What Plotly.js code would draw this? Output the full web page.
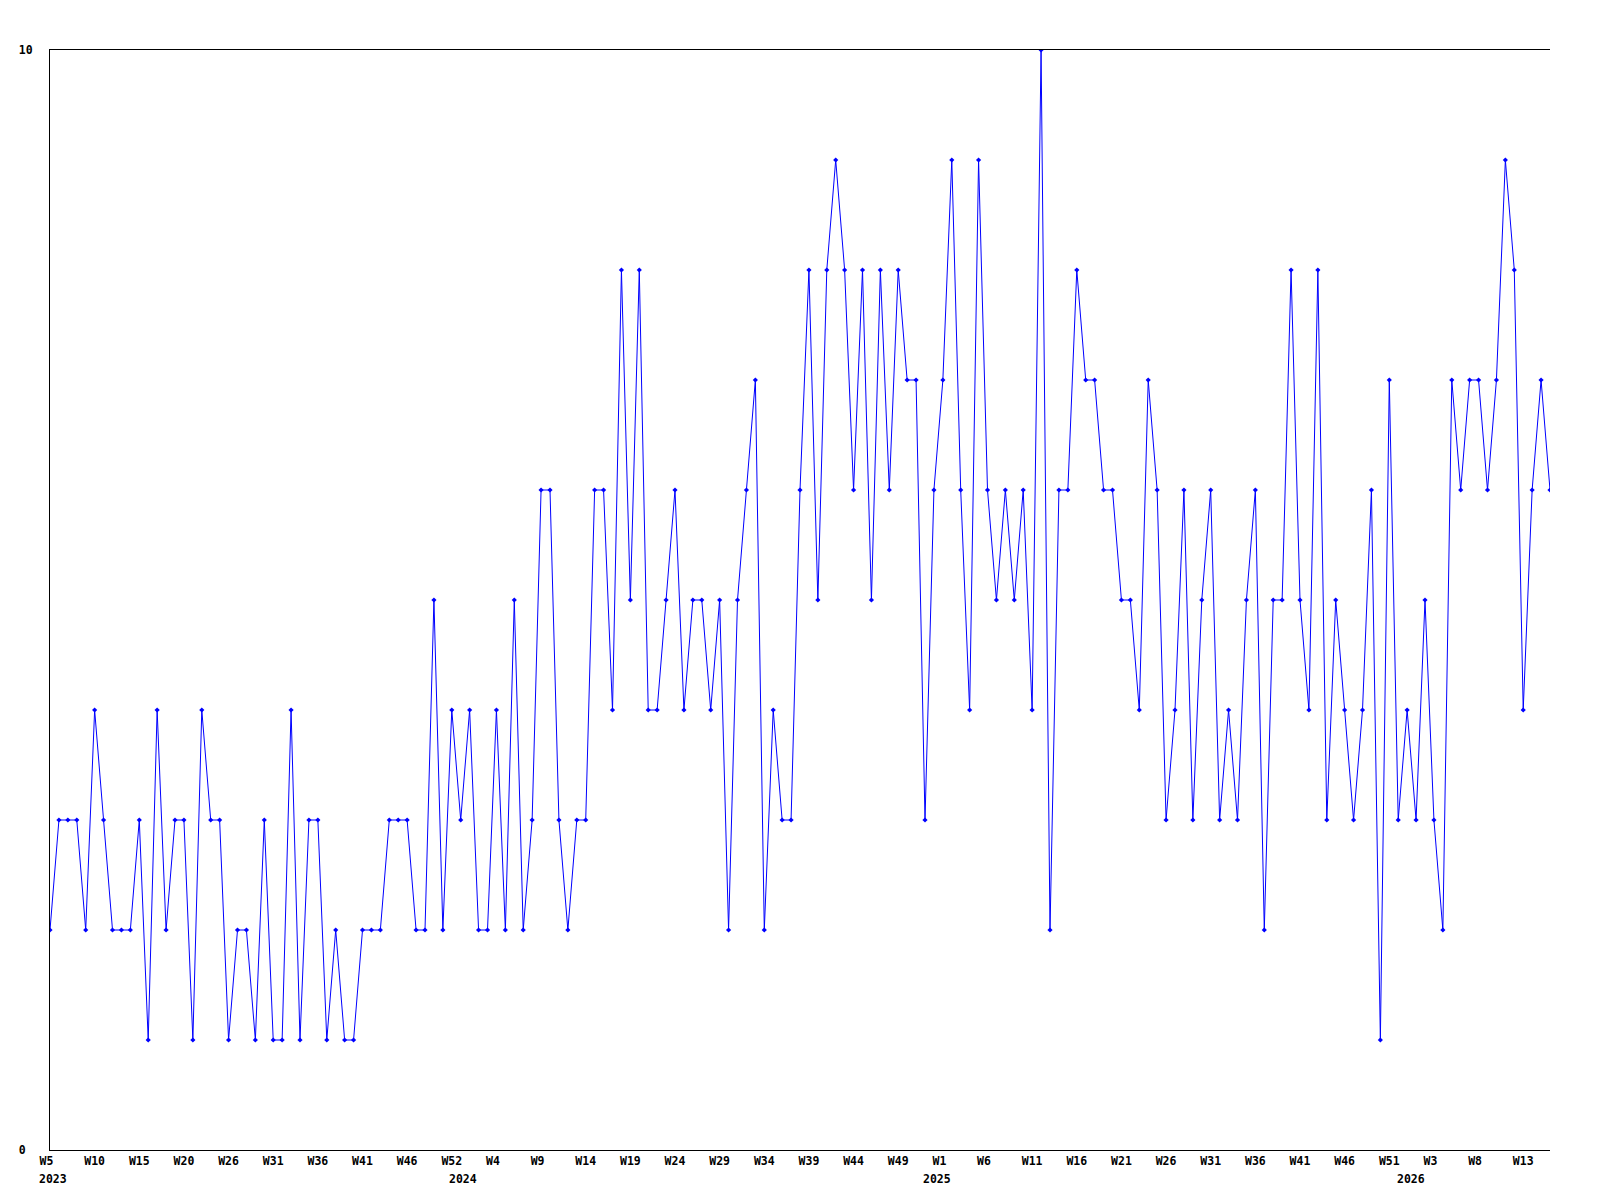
<!DOCTYPE html>
<html>
<head>
<meta charset="utf-8">
<script src="https://cdn.plot.ly/plotly-3.0.1.min.js"></script>
<style>
  html, body { margin: 0; padding: 0; background: #ffffff; }
  #chart { width: 1600px; height: 1200px; }
</style>
</head>
<body>
<div id="chart"></div>
<script>
// Weekly values, from 2023 W5 onward (one value per week)
const values = [
  2,3,3,3,2,4,3,2,2,2,
  3,1,4,2,3,3,1,4,3,3,
  1,2,2,1,3,1,1,4,1,3,
  3,1,2,1,1,2,2,2,3,3,
  3,2,2,5,2,4,3,4,2,2,
  4,2,5,2,3,6,6,3,2,3,
  3,6,6,4,8,5,8,4,4,5,
  6,4,5,5,4,5,2,5,6,7,
  2,4,3,3,6,8,5,8,9,8,
  6,8,5,8,6,8,7,7,3,6,
  7,9,6,4,9,6,5,6,5,6,
  4,10,2,6,6,8,7,7,6,6,
  5,5,4,7,6,3,4,6,3,5,
  6,3,4,3,5,6,2,5,5,8,
  5,4,8,3,5,4,3,4,6,1,
  7,3,4,3,5,3,2,7,6,7,
  7,6,7,9,8,4,6,7,6
];

// Week tick labels (one every 5 weeks, as printed on the axis)
const weekLabels = [
  "W5","W10","W15","W20","W26","W31","W36","W41","W46","W52",
  "W4","W9","W14","W19","W24","W29","W34","W39","W44","W49",
  "W1","W6","W11","W16","W21","W26","W31","W36","W41","W46",
  "W51","W3","W8","W13"
];

// Year labels under the week labels
const yearLabels = ["2023","2024","2025","2026"];
const yearAt = [0.38, 46.25, 99.3, 152.4];

const yTickVals = [0, 10];
const yTickText = ["0\u00a0", "10"];

const xIdx = values.map((_, i) => i);
const tickIdx = weekLabels.map((_, i) => i * 5);
// pad two-character labels so every label starts at the same offset from its tick
const tickText = weekLabels.map(s => s.length < 3 ? s + "\u00a0" : s);

const monoFont = { family: "DejaVu Sans Mono, Liberation Mono, monospace", size: 11.5, color: "#000000", weight: "bold" };

const trace = {
  x: xIdx,
  y: values,
  type: "scatter",
  mode: "lines+markers",
  line: { color: "#0000ff", width: 1 },
  marker: { color: "#0000ff", symbol: "diamond", size: 4, line: { width: 0 } },
  hoverinfo: "y"
};

const layout = {
  width: 1600,
  height: 1200,
  margin: { l: 50, r: 50, t: 50, b: 50, pad: 0 },
  paper_bgcolor: "#ffffff",
  plot_bgcolor: "#ffffff",
  showlegend: false,
  xaxis: {
    range: [0, 168],
    showgrid: false,
    zeroline: false,
    showline: true,
    mirror: true,
    linecolor: "#000000",
    linewidth: 1,
    ticks: "",
    tickmode: "array",
    tickvals: tickIdx,
    ticktext: tickText,
    tickfont: monoFont,
    tickangle: 0
  },
  yaxis: {
    range: [0, 10],
    showgrid: false,
    zeroline: false,
    showline: true,
    mirror: false,
    linecolor: "#000000",
    linewidth: 1,
    ticks: "",
    tickmode: "array",
    tickvals: yTickVals,
    ticktext: yTickText,
    tickfont: monoFont,
    ticklabelstandoff: 14
  },
  annotations: yearLabels.map((t, i) => ({
    text: t,
    x: yearAt[i],
    xref: "x",
    y: -0.0268,
    yref: "paper",
    xanchor: "center",
    yanchor: "middle",
    showarrow: false,
    font: monoFont
  }))
};

Plotly.newPlot("chart", [trace], layout, { displayModeBar: false, staticPlot: true });
</script>
</body>
</html>
